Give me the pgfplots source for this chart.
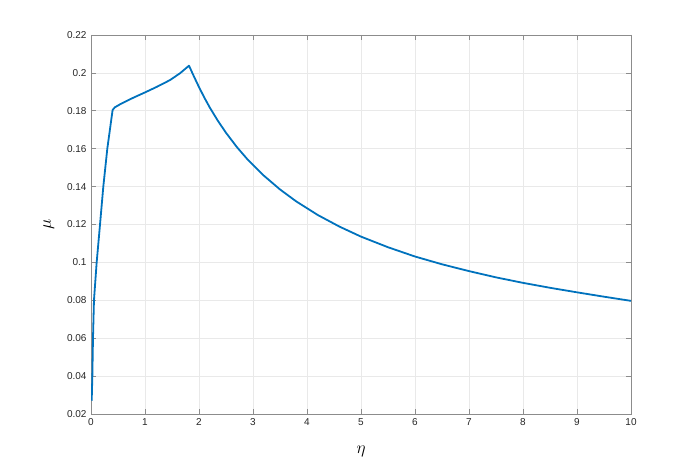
\documentclass[border=0pt]{standalone}
\usepackage{fontspec}
\setmainfont{Liberation Sans}
\usepackage{pgfplots}
\pgfplotsset{compat=1.18}

\definecolor{mblue}{RGB}{0,114,189}
\definecolor{gridc}{RGB}{233,233,233}
\definecolor{axc}{RGB}{140,140,140}
\definecolor{tickc}{RGB}{38,38,38}

\begin{document}
\begin{tikzpicture}[x=1pt,y=1pt]
\path[use as bounding box] (0,0) rectangle (698,465);
\begin{axis}[
    at={(91pt,51pt)}, anchor=south west,
    scale only axis,
    width=540pt, height=379pt,
    xmin=0, xmax=10, ymin=0.02, ymax=0.22,
    xtick={0,1,...,10},
    ytick={0.02,0.04,...,0.221},
    yticklabels={0.02,0.04,0.06,0.08,0.1,0.12,0.14,0.16,0.18,0.2,0.22},
    grid=major,
    major grid style={gridc, line width=0.6pt},
    axis line style={axc, line width=0.7pt},
    tick style={axc, line width=0.7pt},
    major tick length=5pt,
    tick align=inside,
    ticklabel style={font=\fontsize{10}{12}\selectfont, text=tickc},
    /pgf/number format/assume math mode=true,
    xticklabel style={yshift=-1pt},
    yticklabel style={xshift=-1pt},
    xlabel={$\eta$}, ylabel={$\mu$},
    label style={font=\fontsize{18}{20}\selectfont},
    xlabel style={at={(0.5,-0.1)}, anchor=center},
    ylabel style={at={(-0.078,0.5)}, anchor=center, rotate=0},
]
\addplot[mblue, line width=1.8pt, line join=round] coordinates {
(0.013,0.027) (0.025,0.040) (0.037,0.060) (0.055,0.080) (0.105,0.100)
(0.167,0.120) (0.228,0.140) (0.302,0.160) (0.40,0.1804) (0.44,0.1818)
(0.537,0.1834) (0.66,0.1852) (0.784,0.1869) (1.0,0.1897) (1.216,0.1926)
(1.463,0.1962) (1.648,0.1998) (1.815,0.2038) (1.9,0.1985) (2.0,0.1925)
(2.1,0.1869) (2.2,0.1817) (2.35,0.1747) (2.5,0.1684) (2.7,0.1609)
(2.9,0.1543) (3.2,0.1458) (3.5,0.1385) (3.8,0.1322) (4.2,0.1250)
(4.6,0.1189) (5.0,0.1136) (5.5,0.1080) (6.0,0.1031) (6.5,0.0990)
(7.0,0.0954) (7.5,0.0921) (8.0,0.0892) (8.5,0.0866) (9.0,0.0842)
(9.5,0.0819) (10.0,0.0797)
};
\end{axis}
\end{tikzpicture}
\end{document}
